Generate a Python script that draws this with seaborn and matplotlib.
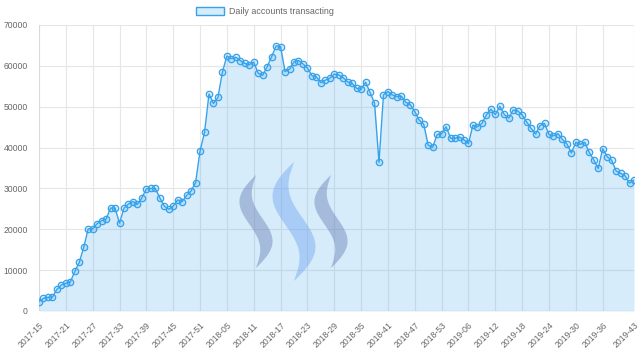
import numpy as np
import pandas as pd
import matplotlib
matplotlib.use("Agg")
import matplotlib.pyplot as plt
import seaborn as sns
from matplotlib.patches import Patch, Polygon

# ---- data ----
weeks = ([f"2017-{w:02d}" for w in range(15, 53)] +
         [f"2018-{w:02d}" for w in range(1, 54)] +
         [f"2019-{w:02d}" for w in range(1, 44)])

accounts = [
    2300, 3100, 3350, 3400, 5300, 6400, 6800, 7100, 9700, 11900,
    15600, 20100, 20100, 21400, 22100, 22500, 25200, 25200, 21500, 25200,
    26200, 26800, 26100, 27700, 29900, 30000, 30000, 27700, 25700, 24900,
    25700, 27200, 26800, 28300, 29400, 31400, 39200, 43700, 53100, 50800,
    52300, 58500, 62400, 61800, 62100, 61300, 60600, 60300, 60900, 58200,
    57700, 59800, 62200, 64900, 64700, 58600, 59200, 61000, 61300, 60500,
    59500, 57600, 57300, 55900, 56500, 57000, 58000, 57800, 57100, 56100,
    55700, 54500, 54300, 56000, 53500, 50900, 36400, 52900, 53700, 52900,
    52500, 52600, 51100, 50500, 48800, 46700, 45700, 40600, 40100, 43200,
    43400, 45100, 42300, 42300, 42600, 41900, 41000, 45500, 45100, 45900,
    48000, 49400, 48100, 50100, 48100, 47200, 49200, 49000, 48000, 46300,
    44700, 43300, 45400, 45900, 43200, 42900, 43400, 42000, 40900, 38700,
    41300, 40800, 41300, 38800, 37000, 34900, 39700, 37800, 36900, 34300,
    33700, 33100, 31300, 32100,
]

series_label = "Daily accounts transacting"
y_ticks = [0, 10000, 20000, 30000, 40000, 50000, 60000, 70000]
x_tick_idx = list(range(0, len(weeks), 6))
if x_tick_idx[-1] != len(weeks) - 1:
    x_tick_idx[-1] = len(weeks) - 1  # last label shown instead of the one before

df = pd.DataFrame({"idx": np.arange(len(weeks)), "week": weeks, "accounts": accounts})

# ---- style ----
line_c = "#36A2EB"
fill_c = (54/255, 162/255, 235/255, 0.2)
grid_c = "#e6e6e6"
text_c = "#666666"

sns.set_style("white")
plt.rcParams["font.family"] = ["Liberation Sans", "DejaVu Sans"]

W, H = 640, 361
fig = plt.figure(figsize=(W/100, H/100), dpi=100)
ax = fig.add_axes([39/W, 50/H, 595/W, 286/H])

ax.fill_between(df["idx"], df["accounts"], 0, color=fill_c, linewidth=0, zorder=1)

# Steem-like watermark (decoration)
def swoosh(cx, ytop, ybot, amp, width, color):
    t = np.linspace(0, 1, 80)
    xc = cx - amp*np.sin(2*np.pi*t)
    w = width*np.sin(np.pi*t)**0.9
    y = ytop + (ybot - ytop)*t
    xs = np.concatenate([xc + w/2, (xc - w/2)[::-1]])
    ys = np.concatenate([y, y[::-1]])
    pts = np.column_stack([xs/W, 1 - ys/H])
    fig.add_artist(Polygon(pts, closed=True, transform=fig.transFigure,
                           facecolor=color, edgecolor="none", zorder=2))

swoosh(256, 175, 268, 10, 17, (0.42, 0.50, 0.72, 0.45))
swoosh(294, 162, 281, 13, 22, (0.45, 0.65, 0.95, 0.45))
swoosh(331, 175, 268, 10, 17, (0.42, 0.50, 0.72, 0.45))

sns.lineplot(data=df, x="idx", y="accounts", ax=ax, color=line_c, linewidth=1.0,
             marker="o", markersize=4.6, markerfacecolor=fill_c,
             markeredgecolor=line_c, markeredgewidth=0.9, zorder=5)

ax.set_xlim(0, len(weeks) - 1)
ax.set_ylim(0, 70000)
ax.set_yticks(y_ticks)
ax.set_yticklabels([str(v) for v in y_ticks])
ax.set_xticks(x_tick_idx)
ax.set_xticklabels([weeks[i] for i in x_tick_idx], rotation=45, ha="right",
                   rotation_mode="anchor")
ax.set_xlabel("")
ax.set_ylabel("")

ax.grid(True, color=grid_c, linewidth=0.8, zorder=0)
ax.set_axisbelow(True)
for s in ax.spines.values():
    s.set_visible(False)
ax.axhline(0, color="#bfbfbf", linewidth=0.8, zorder=3)
ax.axvline(0, color="#d9d9d9", linewidth=0.8, zorder=3)

ax.tick_params(axis="both", which="both", colors=grid_c, labelcolor=text_c,
               labelsize=6.2, length=6, width=0.8)
ax.tick_params(axis="y", pad=2)
ax.tick_params(axis="x", pad=1)

handle = Patch(facecolor=fill_c, edgecolor=line_c, linewidth=1.0, label=series_label)
fig.legend(handles=[handle], loc="center left",
           bbox_to_anchor=(196/W, 1 - 11.5/H), frameon=False,
           fontsize=6.4, labelcolor=text_c, handlelength=3.1, handleheight=1.1,
           handletextpad=0.6, borderpad=0, borderaxespad=0)

fig.savefig("out.png", dpi=100)
